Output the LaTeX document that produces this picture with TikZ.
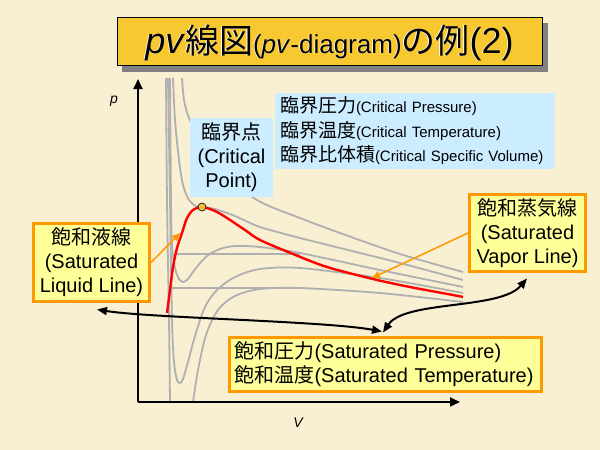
\documentclass[tikz,border=0pt]{standalone}
\usepackage{fontspec}
\setmainfont{Liberation Sans}
\newfontfamily\jp{Noto Sans CJK JP}
\usetikzlibrary{arrows.meta}
\definecolor{bg}{RGB}{249,239,210}
\definecolor{titlefill}{RGB}{248,200,48}
\definecolor{shadowgray}{RGB}{128,128,128}
\definecolor{curvegray}{RGB}{176,176,176}
\definecolor{satred}{RGB}{255,0,0}
\definecolor{boxyellow}{RGB}{255,255,153}
\definecolor{boxorange}{RGB}{255,153,0}
\definecolor{boxblue}{RGB}{204,236,255}
\definecolor{cpgold}{RGB}{240,190,60}
\newcommand\mytitletext{\fontsize{36}{36}\selectfont\textit{pv}{\jp\fontsize{34}{34}\selectfont 線図}{\fontsize{26}{26}\selectfont(\textit{pv}-diagram)}{\jp\fontsize{34}{34}\selectfont の例}(2)}
\begin{document}
\begin{tikzpicture}[x=1pt,y=-1pt,
  iso/.style={curvegray, line width=1.8pt, line join=round},
  satline/.style={satred, line width=2.4pt, line join=round},
  axisline/.style={black, line width=1.8pt, -{Triangle[length=10pt,width=9pt]}},
  yelbox/.style={draw=boxorange, line width=3pt, fill=boxyellow, inner sep=0pt, align=center, font=\fontsize{20}{24}\selectfont},
  bluebox/.style={fill=boxblue, inner sep=0pt},
  orarrow/.style={boxorange, line width=1.5pt, -{Triangle[length=8pt,width=7pt]}},
  blkarrow/.style={black, line width=2pt, {Triangle[length=10pt,width=8pt]}-{Triangle[length=10pt,width=8pt]}},
  axlabel/.style={font=\itshape\fontsize{14}{14}\selectfont, inner sep=0pt}
]
\useasboundingbox (0,0) rectangle (600,450);
\fill[bg] (0,0) rectangle (600,450);

% title
\fill[shadowgray] (122,23) rectangle (548,72);
\node[draw=black, line width=0.8pt, fill=titlefill, minimum width=425pt, minimum height=48pt, inner sep=0pt] (titlebox) at (330,41.5) {};
\node[white, inner sep=0pt] (titleshade) at (328.8,43.2) {\mytitletext};
\node[black, inner sep=0pt] (titletext) at (329.5,42.5) {\mytitletext};

% gray isotherms
\draw[iso] plot[smooth, tension=0.5] coordinates {(166,78) (167,200) (169,320) (170,402)};
\draw[iso] plot[smooth, tension=0.5] coordinates {(193,402) (198,370) (206,335) (218,310) (235,296) (260,289) (300,288) (380,293) (463,302)};
\draw[iso] plot[smooth, tension=0.5] coordinates {(168,78) (170,200) (172,320) (174,362) (177,380) (180,383) (183,379) (188,362) (195,336) (205,307) (217,290) (235,277) (260,269) (300,268) (380,278) (463,293)};
\draw[iso] plot[smooth, tension=0.5] coordinates {(170,78) (171,200) (172,245) (175,268) (179,279) (183,282) (188,279) (196,268) (207,256) (220,249) (235,246) (260,247) (300,253) (380,270) (463,287)};
\draw[iso] (177,254) -- (300,254);
\draw[iso] (171,288) -- (300,288);
\draw[iso] plot[smooth, tension=0.5] coordinates {(173,78) (175,120) (179,160) (183,185) (189,200) (196,206) (202,207) (215,209) (235,216) (260,227) (300,238) (340,248) (400,263) (463,280)};
\draw[iso] plot[smooth, tension=0.5] coordinates {(182,78) (184,100) (189,118) (200,140) (220,170) (257,200) (300,218) (340,233) (400,254) (463,272)};

% saturation curve
\draw[satline] plot[smooth, tension=0.5] coordinates {(167,313) (170,290) (173,267) (177,248) (182,233) (187,218) (193,210) (202,207) (215,211) (227,218) (245,230) (260,240) (293,254) (327,267) (373,279) (410,287) (453,295) (463,297)};
\node[circle, draw=black, line width=0.6pt, fill=cpgold, minimum size=8pt, inner sep=0pt] (cpdot) at (202,207) {};

% axes
\coordinate (O) at (138,402);
\coordinate (ytop) at (138,79);
\coordinate (xend) at (460,402);
\draw[axisline] (O) -- (ytop);
\draw[axisline] (O) -- (xend);
\node[axlabel] (plabel) at (114,101) {p};
\node[axlabel] (vlabel) at (298,423) {V};

% boxes
\node[bluebox, minimum width=83pt, minimum height=79pt, align=center, font=\fontsize{20}{24}\selectfont] (cp) at (231.5,157.5) {{\jp 臨界点}\\(Critical\\Point)};
\node[bluebox, inner xsep=5pt, text width=270pt, minimum height=76pt, align=left, font=\fontsize{15}{24.5}\selectfont] (crit) at (415,131)
 {{\jp\fontsize{19}{24.5}\selectfont 臨界圧力}(Critical Pressure)\\
  {\jp\fontsize{19}{24.5}\selectfont 臨界温度}(Critical Temperature)\\
  {\jp\fontsize{19}{24.5}\selectfont 臨界比体積}(Critical Specific Volume)};
\node[yelbox, minimum width=116pt, minimum height=78pt] (liq) at (91.5,262.5) {{\jp 飽和液線}\\(Saturated\\Liquid Line)};
\node[yelbox, minimum width=116pt, minimum height=77pt] (vap) at (527.5,233) {{\jp 飽和蒸気線}\\(Saturated\\Vapor Line)};
\node[yelbox, align=left, inner xsep=5pt, text width=302pt, minimum height=54pt] (pres) at (385.5,364.5)
 {{\jp 飽和圧力}(Saturated Pressure)\\{\jp 飽和温度}(Saturated Temperature)};

% orange pointers
\coordinate (liqpt) at (180,233);
\coordinate (vappt) at (372,278);
\draw[orarrow] (liq.east) -- (liqpt);
\draw[orarrow] (vap.west) -- (vappt);

% black double arrows
\draw[blkarrow] ([shift={(5.5,6.5)}]liq.south) .. controls (150,318) and (325,321) .. ([shift={(-3.5,-4.5)}]pres.north);
\draw[blkarrow] ([shift={(-2.5,-3.5)}]pres.north) .. controls (405,300) and (500,310) .. ([shift={(-0.5,5.5)}]vap.south);
\end{tikzpicture}
\end{document}
